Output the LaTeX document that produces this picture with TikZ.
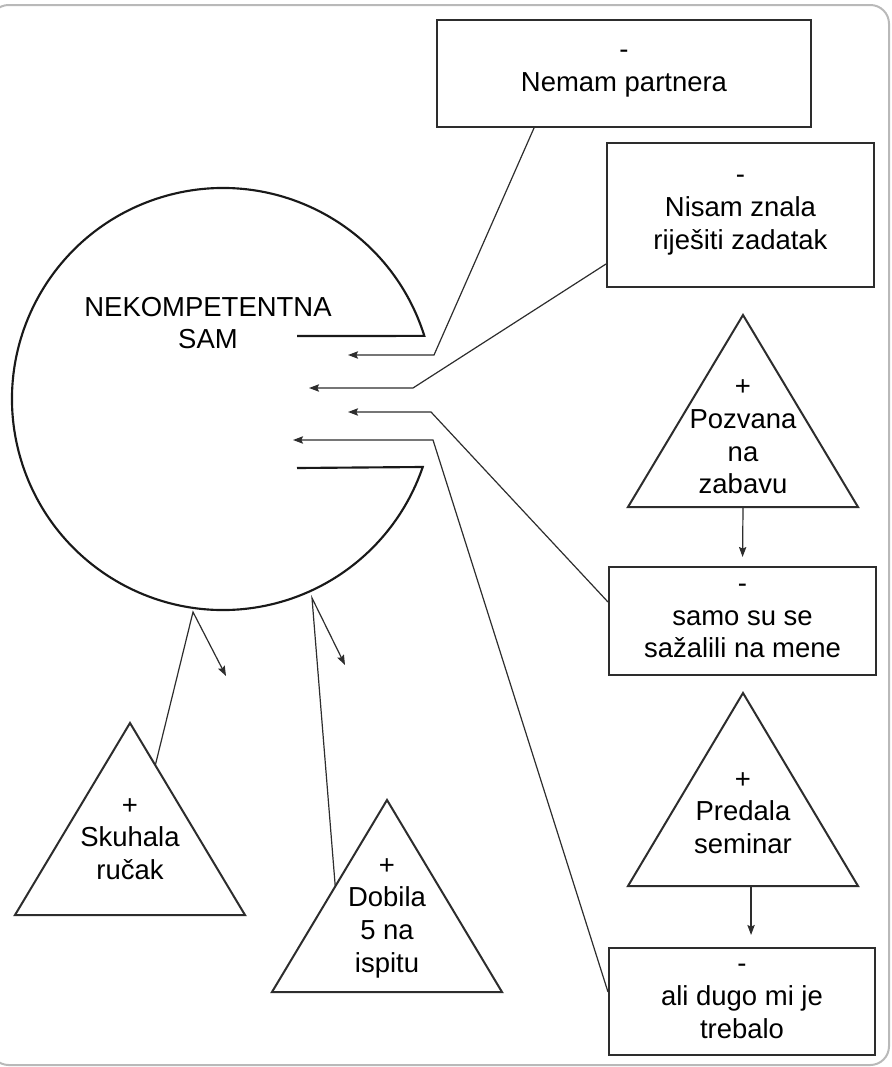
\documentclass[tikz,border=0pt]{standalone}
\usepackage{fontspec}
\setmainfont{Liberation Sans}
\usetikzlibrary{arrows.meta,calc}

\definecolor{inkgray}{RGB}{45,45,45}
\definecolor{framegray}{RGB}{185,185,185}

\tikzset{every picture/.style={line width=0.75pt}}
\tikzset{
  minusbox/.style={draw=inkgray, line width=1.5pt, align=center, inner sep=0pt,
    font=\fontsize{20.6}{24.5}\selectfont},
  plustri/.style={draw=inkgray, line width=1.5pt, line join=miter},
  plustext/.style={align=center, inner sep=0pt, font=\fontsize{20.6}{24.5}\selectfont},
  ring/.style={draw=black!90, line width=1.6pt},
  link/.style={draw=inkgray, line width=0.9pt},
  linkarrow/.style={link, -{Stealth[length=7.5pt,width=5.5pt,inset=1.2pt]}},
  outline/.style={draw=framegray, line width=1.5pt, rounded corners=14pt}
}

\begin{document}
\begin{tikzpicture}[x=0.75pt,y=0.75pt,yscale=-1,xscale=1]
\useasboundingbox (0,0) rectangle (892,1067);

% Frame
\draw[outline] (-10,5) rectangle (889,1065);

% Open circle
\coordinate (mid) at (223,399);
\draw[ring] (297,336) -- ($(mid)+(-17.4:211)$) arc[start angle=-17.4, end angle=-341.2, radius=211] -- (297,468);
% Text Node
\node[plustext] (nekomp) at (208,323) {NEKOMPETENTNA\\SAM};

% Text Node
\node[minusbox, minimum width=280.5pt, minimum height=80.25pt] (nemam) at (624,73.5) {-\\Nemam partnera};
% Text Node
\node[minusbox, minimum width=200.25pt, minimum height=108pt] (nisam) at (740.5,215) {-\\Nisam znala\\riješiti zadatak};
% Text Node
\node[minusbox, minimum width=200.25pt, minimum height=81pt] (samo) at (742.5,621) {-\\samo su se\\sažalili na mene};
% Text Node
\node[minusbox, minimum width=199.5pt, minimum height=80.25pt] (ali) at (742,1001.5) {-\\ali dugo mi je\\trebalo};

% Triangle
\coordinate (pozvanaTop) at (743,315);
\coordinate (pozvanaLeft) at ($(pozvanaTop)+(-115,192)$);
\coordinate (pozvanaRight) at ($(pozvanaTop)+(115,192)$);
\draw[plustri] (pozvanaTop) -- (pozvanaLeft) -- (pozvanaRight) -- cycle;
\node[plustext] (pozvana) at (743,437) {+\\Pozvana\\na\\zabavu};
% Triangle
\coordinate (predalaTop) at (743,693);
\coordinate (predalaLeft) at ($(predalaTop)+(-115,193)$);
\coordinate (predalaRight) at ($(predalaTop)+(115,193)$);
\draw[plustri] (predalaTop) -- (predalaLeft) -- (predalaRight) -- cycle;
\node[plustext] (predala) at (743,813) {+\\Predala\\seminar};
% Triangle
\coordinate (skuhalaTop) at (130,723);
\coordinate (skuhalaLeft) at ($(skuhalaTop)+(-115,192)$);
\coordinate (skuhalaRight) at ($(skuhalaTop)+(115,192)$);
\draw[plustri] (skuhalaTop) -- (skuhalaLeft) -- (skuhalaRight) -- cycle;
\node[plustext] (skuhala) at (130,839) {+\\Skuhala\\ručak};
% Triangle
\coordinate (dobilaTop) at (387,800);
\coordinate (dobilaLeft) at ($(dobilaTop)+(-115,192)$);
\coordinate (dobilaRight) at ($(dobilaTop)+(115,192)$);
\draw[plustri] (dobilaTop) -- (dobilaLeft) -- (dobilaRight) -- cycle;
\node[plustext] (dobila) at (387,918) {+\\Dobila\\5 na\\ispitu};

% Bends inside the opening
\coordinate (bendA) at (434,355);  \coordinate (tipA) at (348,355);
\coordinate (bendB) at (413,388);  \coordinate (tipB) at (309,388);
\coordinate (bendC) at (431,412);  \coordinate (tipC) at (348,412);
\coordinate (bendD) at (433,440);  \coordinate (tipD) at (293,440);
% Bends under the circle
\coordinate (rimE) at (193,612);   \coordinate (tipE) at (226,676);
\coordinate (rimF) at (312,598);   \coordinate (tipF) at (345,665);

% Connection
\draw[linkarrow] ($(nemam.south west)+(98,0)$) -- (bendA) -- (tipA);
% Connection
\draw[linkarrow] ($(nisam.south west)+(0,-24)$) -- (bendB) -- (tipB);
% Connection
\draw[linkarrow] ($(samo.north west)+(0,36)$) -- (bendC) -- (tipC);
% Connection
\draw[linkarrow] ($(ali.north west)+(0,45)$) -- (bendD) -- (tipD);
% Connection
\draw[linkarrow] ($(skuhalaTop)!0.22!(skuhalaRight)$) -- (rimE) -- (tipE);
% Connection
\draw[linkarrow] ($(dobilaTop)!0.45!(dobilaLeft)$) -- (rimF) -- (tipF);
% Connection
\draw[linkarrow, shorten >=6.75pt] ($(pozvanaLeft)!0.5!(pozvanaRight)$) -- (samo.north);
% Connection
\coordinate (predalaFoot) at ($(predalaLeft)!0.535!(predalaRight)$);
\draw[linkarrow, shorten >=9pt] (predalaFoot) -- (predalaFoot |- ali.north);

\end{tikzpicture}
\end{document}
